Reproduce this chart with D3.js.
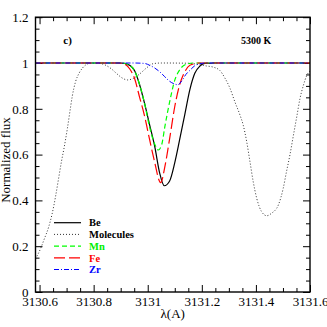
<!DOCTYPE html>
<html>
<head>
<meta charset="utf-8">
<script src="https://cdn.jsdelivr.net/npm/d3@7"></script>
<style>
  body { margin: 0; background: #fff; }
  svg { display: block; }
  .axis text { font-family: 'Liberation Serif', serif; font-size: 13px; fill: #000; }
  .axis line { stroke: #000; stroke-width: 1; }
  .axis path { display: none; }
</style>
</head>
<body>
<svg id="chart"></svg>
<script>
//spectra: [wavelength (A), normalized flux]
let beLine = [
  [3130.585, 1], [3130.90, 1], [3130.915, 0.998], [3130.933, 0.99], [3130.952, 0.965],
  [3130.970, 0.905], [3130.989, 0.82], [3131.007, 0.73], [3131.026, 0.635], [3131.044, 0.52],
  [3131.061, 0.464], [3131.081, 0.485], [3131.100, 0.565], [3131.118, 0.665], [3131.137, 0.775],
  [3131.156, 0.885], [3131.174, 0.955], [3131.193, 0.987], [3131.211, 0.998], [3131.25, 1], [3131.6, 1]
]
let molecules = [
  [3130.585, 0.145], [3130.604, 0.19], [3130.616, 0.227], [3130.634, 0.285], [3130.647, 0.344],
  [3130.659, 0.416], [3130.671, 0.50], [3130.681, 0.57], [3130.690, 0.625], [3130.703, 0.715],
  [3130.715, 0.81], [3130.721, 0.855], [3130.733, 0.918], [3130.746, 0.955], [3130.758, 0.977],
  [3130.770, 0.991], [3130.789, 0.999], [3130.822, 0.998], [3130.845, 0.99], [3130.865, 0.975],
  [3130.884, 0.955], [3130.905, 0.935], [3130.925, 0.926], [3130.945, 0.932], [3130.970, 0.952],
  [3130.995, 0.978], [3131.020, 0.997], [3131.05, 1], [3131.15, 0.999], [3131.19, 0.993],
  [3131.217, 0.987], [3131.242, 0.982], [3131.267, 0.967], [3131.285, 0.935], [3131.304, 0.89],
  [3131.322, 0.831], [3131.341, 0.773], [3131.353, 0.729], [3131.366, 0.656], [3131.378, 0.569],
  [3131.390, 0.482], [3131.403, 0.409], [3131.421, 0.351], [3131.440, 0.333], [3131.458, 0.344],
  [3131.483, 0.38], [3131.501, 0.453], [3131.513, 0.525], [3131.526, 0.60], [3131.538, 0.68],
  [3131.551, 0.765], [3131.563, 0.845], [3131.575, 0.90], [3131.588, 0.945], [3131.600, 0.965]
]
let mnLine = [
  [3130.585, 1], [3130.90, 1], [3130.933, 0.99], [3130.952, 0.965], [3130.970, 0.905],
  [3130.989, 0.82], [3131.007, 0.72], [3131.026, 0.645], [3131.039, 0.62], [3131.052, 0.645],
  [3131.063, 0.72], [3131.081, 0.83], [3131.100, 0.925], [3131.118, 0.97], [3131.144, 0.995],
  [3131.17, 1], [3131.6, 1]
]
let feLine = [
  [3130.585, 1], [3130.89, 1], [3130.915, 0.995], [3130.933, 0.975], [3130.952, 0.93],
  [3130.970, 0.85], [3130.989, 0.765], [3131.007, 0.665], [3131.026, 0.565], [3131.043, 0.485],
  [3131.048, 0.477], [3131.063, 0.545], [3131.081, 0.67], [3131.100, 0.81], [3131.118, 0.905],
  [3131.137, 0.962], [3131.156, 0.99], [3131.193, 1], [3131.6, 1]
]
let zrLine = [
  [3130.585, 1], [3130.95, 1], [3130.989, 0.998], [3131.007, 0.99], [3131.026, 0.978],
  [3131.044, 0.962], [3131.063, 0.94], [3131.081, 0.92], [3131.100, 0.908], [3131.111, 0.905],
  [3131.126, 0.922], [3131.141, 0.95], [3131.156, 0.968], [3131.174, 0.988], [3131.193, 0.997],
  [3131.211, 1], [3131.6, 1]
]

//legend names, in drawing order
let seriesNames = ['Be', 'Molecules', 'Mn', 'Fe', 'Zr']
let seriesData = [beLine, molecules, mnLine, feLine, zrLine]

//tick labels
let xMajor = [3130.6, 3130.8, 3131, 3131.2, 3131.4, 3131.6]
let yMajor = [0, 0.2, 0.4, 0.6, 0.8, 1, 1.2]

//line looks per series
let styles = {
  Be: { color: '#000', dash: null, width: 1.2, text: '#000' },
  Molecules: { color: '#333', dash: '1,2', width: 1, text: '#000' },
  Mn: { color: '#00ff00', dash: '5,3', width: 1.2, text: '#00ee00' },
  Fe: { color: '#ff0000', dash: '11,4', width: 1.2, text: '#ff0000' },
  Zr: { color: '#0000ff', dash: '5,2,1,2', width: 1, text: '#0000ff' }
}

let outerWidth = 327
let outerHeight = 327
let margins = { top: 17.2, bottom: 35, left: 35.5, right: 17 }
let innerWidth = outerWidth - margins.left - margins.right
let innerHeight = outerHeight - margins.top - margins.bottom

let svg = d3.select('svg#chart')
  .attr('width', outerWidth)
  .attr('height', outerHeight)

let inner = svg.append('g')
  .attr('transform', 'translate(' + margins.left + ',' + margins.top + ')')

let xScale = d3.scaleLinear().domain([3130.585, 3131.6]).range([0, innerWidth])
let yScale = d3.scaleLinear().domain([0, 1.2]).range([innerHeight, 0])

//minor ticks every 0.05
let xMinor = d3.range(0, 21).map(i => 3130.6 + i * 0.05).filter(v => !xMajor.some(m => Math.abs(m - v) < 1e-6))
let yMinor = d3.range(0, 25).map(i => i * 0.05).filter(v => !yMajor.some(m => Math.abs(m - v) < 1e-6))

let fmtX = d => d3.format('.1f')(d).replace('.0', '')
let fmtY = d => d === 0 || d === 1 ? String(d) : d3.format('.1f')(d)

//tick-only axes get their (empty) labels removed
let noText = g => g.selectAll('text').remove()

//major ticks with labels on bottom and left, ticks only on top and right
inner.append('g').attr('class', 'axis')
  .attr('transform', 'translate(0,' + innerHeight + ')')
  .call(d3.axisBottom(xScale).tickValues(xMajor).tickSize(-7).tickFormat(fmtX))
  .call(g => g.selectAll('text').attr('dy', null).attr('y', 13.5))
inner.append('g').attr('class', 'axis')
  .attr('transform', 'translate(0,' + innerHeight + ')')
  .call(d3.axisBottom(xScale).tickValues(xMinor).tickSize(-4)).call(noText)
inner.append('g').attr('class', 'axis')
  .call(d3.axisTop(xScale).tickValues(xMajor).tickSize(-7)).call(noText)
inner.append('g').attr('class', 'axis')
  .call(d3.axisTop(xScale).tickValues(xMinor).tickSize(-4)).call(noText)

inner.append('g').attr('class', 'axis')
  .call(d3.axisLeft(yScale).tickValues(yMajor).tickSize(-7).tickPadding(7).tickFormat(fmtY))
  .call(g => g.selectAll('text').attr('dy', null).attr('y', 4.3))
inner.append('g').attr('class', 'axis')
  .call(d3.axisLeft(yScale).tickValues(yMinor).tickSize(-4)).call(noText)
inner.append('g').attr('class', 'axis')
  .attr('transform', 'translate(' + innerWidth + ',0)')
  .call(d3.axisRight(yScale).tickValues(yMajor).tickSize(-7)).call(noText)
inner.append('g').attr('class', 'axis')
  .attr('transform', 'translate(' + innerWidth + ',0)')
  .call(d3.axisRight(yScale).tickValues(yMinor).tickSize(-4)).call(noText)

//spectra
let line = d3.line()
  .x(d => xScale(d[0]))
  .y(d => yScale(d[1]))
  .curve(d3.curveMonotoneX)

seriesNames.forEach((name, i) => {
  let s = styles[name]
  inner.append('path')
    .datum(seriesData[i])
    .attr('d', line)
    .attr('fill', 'none')
    .attr('stroke', s.color)
    .attr('stroke-width', s.width)
    .attr('stroke-dasharray', s.dash)
})

//frame
inner.append('rect')
  .attr('width', innerWidth)
  .attr('height', innerHeight)
  .attr('fill', 'none')
  .attr('stroke', '#000')
  .attr('stroke-width', 1.4)

//legend
let legend = svg.append('g')
  .attr('transform', 'translate(54,222.7)')
seriesNames.forEach((name, i) => {
  let s = styles[name]
  let row = legend.append('g').attr('transform', 'translate(0,' + (i * 11.7) + ')')
  row.append('line')
    .attr('x1', 0).attr('x2', 27)
    .attr('stroke', s.color)
    .attr('stroke-width', s.width)
    .attr('stroke-dasharray', s.dash)
  row.append('text')
    .attr('x', 35)
    .attr('y', 3.7)
    .style('font-family', 'Liberation Serif, serif')
    .style('font-size', '10.5px')
    .style('font-weight', 'bold')
    .attr('fill', s.text)
    .text(name)
})

//annotations
svg.append('text')
  .attr('x', 63.3).attr('y', 43.5)
  .style('font-family', 'Liberation Serif, serif')
  .style('font-size', '11px')
  .style('font-weight', 'bold')
  .text('c)')

svg.append('text')
  .attr('x', 241).attr('y', 44.3)
  .style('font-family', 'Liberation Serif, serif')
  .style('font-size', '10px')
  .style('font-weight', 'bold')
  .text('5300 K')

//axis labels
svg.append('text')
  .attr('x', margins.left + innerWidth / 2)
  .attr('y', 318)
  .attr('text-anchor', 'middle')
  .style('font-family', 'Liberation Serif, serif')
  .style('font-size', '13px')
  .text('λ(A)')

svg.append('text')
  .attr('transform', 'translate(10,160) rotate(-90)')
  .attr('text-anchor', 'middle')
  .style('font-family', 'Liberation Serif, serif')
  .style('font-size', '13px')
  .text('Normalized flux')
</script>
</body>
</html>
